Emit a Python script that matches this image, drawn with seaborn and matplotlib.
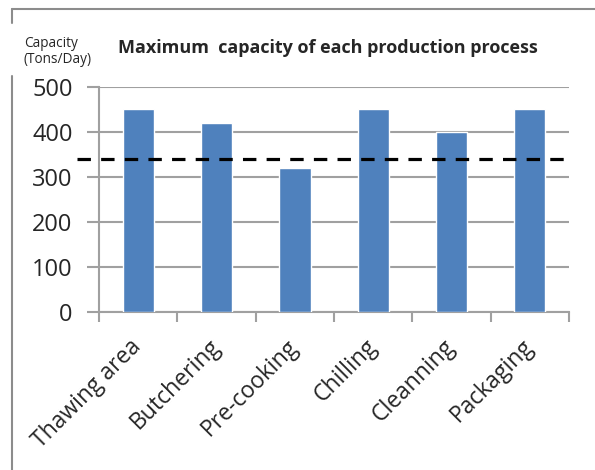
import matplotlib
matplotlib.use("Agg")
import matplotlib.pyplot as plt
import seaborn as sns
import pandas as pd
from matplotlib.lines import Line2D
from matplotlib.ticker import MultipleLocator, FixedLocator

# Production processes and their maximum daily capacity (tons/day)
processes = ["Thawing area", "Butchering", "Pre-cooking", "Chilling", "Cleanning", "Packaging"]
capacity = [450, 420, 320, 450, 400, 450]
demand_level = 340
y_ticks = [0, 100, 200, 300, 400, 500]

df = pd.DataFrame({"process": processes, "capacity": capacity})

sns.set_theme(style="white")
plt.rcParams["font.family"] = ["Open Sans", "DejaVu Sans"]

fig = plt.figure(figsize=(5.95, 4.70), dpi=100)
ax = fig.add_axes([0.1664, 0.3355, 0.7899, 0.48])

sns.barplot(data=df, x="process", y="capacity", color="#4F81BD", width=0.4,
            saturation=1, ax=ax, zorder=3)

ax.set_xlim(-0.5, len(processes) - 0.5)
ax.set_ylim(0, 500)
ax.yaxis.set_major_locator(FixedLocator(y_ticks))
ax.yaxis.grid(True, color="#a0a0a0", linewidth=1.5)
ax.set_axisbelow(True)

# Dashed reference level
ax.plot([-0.78, len(processes) - 0.52], [demand_level, demand_level],
        color="black", linewidth=2.3, dashes=(4.2, 3.2), zorder=4, clip_on=False)

for side in ["top", "right"]:
    ax.spines[side].set_visible(False)
for side in ["left", "bottom"]:
    ax.spines[side].set_color("#a0a0a0")
    ax.spines[side].set_linewidth(1.5)

ax.set_xlabel("")
ax.set_ylabel("")
ax.tick_params(axis="y", length=9, width=1.5, color="#a0a0a0", labelsize=17,
               pad=10, left=True)
ax.tick_params(axis="x", which="major", length=0, labelsize=16.5, pad=22)
ax.xaxis.set_minor_locator(MultipleLocator(1, offset=0.5))
ax.tick_params(axis="x", which="minor", length=7, width=1.5, color="#a0a0a0",
               bottom=True, direction="out")
plt.setp(ax.get_xticklabels(), rotation=45, ha="right", va="center",
         rotation_mode="anchor")

fig.text(0.199, 0.897, "Maximum  capacity of each production process",
         fontsize=13.0, fontweight="bold", ha="left", va="center")
fig.text(0.040, 0.891, "Capacity\n(Tons/Day)", fontsize=9.8, ha="left",
         va="center", linespacing=1.05)

# Outer frame lines along the top and left edges (left edge broken by the unit label)
frame = dict(color="#8c8c8c", linewidth=1.5, zorder=0)
fig.add_artist(Line2D([0.02, 1.0], [0.981, 0.981], transform=fig.transFigure, **frame))
fig.add_artist(Line2D([0.02, 0.02], [0.951, 0.981], transform=fig.transFigure, **frame))
fig.add_artist(Line2D([0.02, 0.02], [0.0, 0.838], transform=fig.transFigure, **frame))

fig.savefig("out.png", dpi=100)
